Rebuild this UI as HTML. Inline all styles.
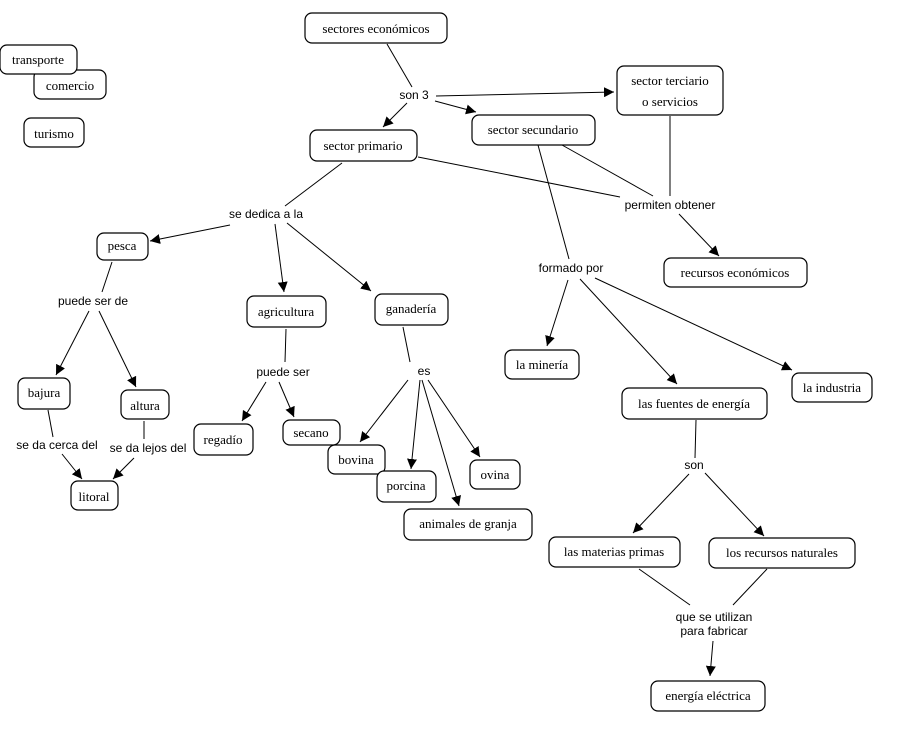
<!DOCTYPE html>
<html><head><meta charset="utf-8"><style>
html,body{margin:0;padding:0;background:#fff;}
svg{display:block;}
.n rect{fill:#fff;stroke:#000;stroke-width:1.2;}
.n text{font-family:"Liberation Serif",serif;font-size:13px;text-anchor:middle;fill:#000;}
.l{font-family:"Liberation Sans",sans-serif;font-size:12px;text-anchor:middle;fill:#000;}
line{stroke:#000;stroke-width:1;}
</style></head><body>
<svg width="912" height="753" viewBox="0 0 912 753" xmlns="http://www.w3.org/2000/svg">
<defs><marker id="a" viewBox="0 0 10 10" refX="10" refY="5" markerWidth="10" markerHeight="10" markerUnits="userSpaceOnUse" orient="auto"><path d="M0,0 L10,5 L0,10 z" fill="#000"/></marker></defs>
<g>
<line x1="387" y1="44" x2="412" y2="87"/>
<line x1="407" y1="103" x2="383" y2="127" marker-end="url(#a)"/>
<line x1="436" y1="96" x2="614" y2="92" marker-end="url(#a)"/>
<line x1="435" y1="101" x2="476" y2="112" marker-end="url(#a)"/>
<line x1="342" y1="163" x2="285" y2="206"/>
<line x1="418" y1="157" x2="620" y2="197"/>
<line x1="562" y1="145" x2="653" y2="196"/>
<line x1="670" y1="116" x2="670" y2="196"/>
<line x1="679" y1="214" x2="719" y2="256" marker-end="url(#a)"/>
<line x1="538" y1="145" x2="569" y2="259"/>
<line x1="568" y1="280" x2="547" y2="346" marker-end="url(#a)"/>
<line x1="580" y1="279" x2="677" y2="384" marker-end="url(#a)"/>
<line x1="595" y1="278" x2="792" y2="370" marker-end="url(#a)"/>
<line x1="230" y1="225" x2="150" y2="241" marker-end="url(#a)"/>
<line x1="275" y1="224" x2="284" y2="292" marker-end="url(#a)"/>
<line x1="287" y1="223" x2="371" y2="291" marker-end="url(#a)"/>
<line x1="112" y1="262" x2="102" y2="292"/>
<line x1="89" y1="311" x2="56" y2="375" marker-end="url(#a)"/>
<line x1="99" y1="311" x2="136" y2="387" marker-end="url(#a)"/>
<line x1="48" y1="410" x2="53" y2="437"/>
<line x1="62" y1="454" x2="82" y2="479" marker-end="url(#a)"/>
<line x1="144" y1="421" x2="144" y2="439"/>
<line x1="134" y1="458" x2="113" y2="479" marker-end="url(#a)"/>
<line x1="286" y1="329" x2="285" y2="362"/>
<line x1="266" y1="382" x2="242" y2="421" marker-end="url(#a)"/>
<line x1="279" y1="382" x2="294" y2="417" marker-end="url(#a)"/>
<line x1="403" y1="327" x2="410" y2="362"/>
<line x1="408" y1="380" x2="360" y2="442" marker-end="url(#a)"/>
<line x1="420" y1="380" x2="411" y2="469" marker-end="url(#a)"/>
<line x1="422" y1="380" x2="459" y2="506" marker-end="url(#a)"/>
<line x1="428" y1="380" x2="480" y2="457" marker-end="url(#a)"/>
<line x1="696" y1="420" x2="695" y2="458"/>
<line x1="689" y1="474" x2="633" y2="533" marker-end="url(#a)"/>
<line x1="705" y1="473" x2="764" y2="536" marker-end="url(#a)"/>
<line x1="639" y1="569" x2="690" y2="605"/>
<line x1="767" y1="569" x2="733" y2="605"/>
<line x1="713" y1="641" x2="710" y2="676" marker-end="url(#a)"/>
</g>
<g class="n">
<rect x="305" y="13" width="142" height="30" rx="7"/><text x="376" y="33">sectores económicos</text>
<rect x="34" y="70" width="72" height="29" rx="7"/><text x="70" y="90">comercio</text>
<rect x="0" y="45" width="77" height="29" rx="7"/><text x="38" y="64">transporte</text>
<rect x="24" y="118" width="60" height="29" rx="7"/><text x="54" y="138">turismo</text>
<rect x="310" y="130" width="107" height="31" rx="7"/><text x="363" y="150">sector primario</text>
<rect x="472" y="115" width="123" height="30" rx="7"/><text x="533" y="134">sector secundario</text>
<rect x="617" y="66" width="106" height="49" rx="7"/><text x="670" y="85">sector terciario</text><text x="670" y="106">o servicios</text>
<rect x="664" y="258" width="143" height="29" rx="7"/><text x="735" y="277">recursos económicos</text>
<rect x="97" y="233" width="51" height="27" rx="7"/><text x="122" y="250">pesca</text>
<rect x="247" y="296" width="79" height="31" rx="7"/><text x="286" y="316">agricultura</text>
<rect x="375" y="294" width="73" height="31" rx="7"/><text x="411" y="313">ganadería</text>
<rect x="505" y="350" width="74" height="29" rx="7"/><text x="542" y="369">la minería</text>
<rect x="622" y="388" width="145" height="31" rx="7"/><text x="694" y="408">las fuentes de energía</text>
<rect x="792" y="373" width="80" height="29" rx="7"/><text x="832" y="392">la industria</text>
<rect x="18" y="378" width="52" height="31" rx="7"/><text x="44" y="397">bajura</text>
<rect x="121" y="390" width="48" height="29" rx="7"/><text x="145" y="410">altura</text>
<rect x="194" y="424" width="59" height="31" rx="7"/><text x="223" y="444">regadío</text>
<rect x="283" y="420" width="57" height="25" rx="7"/><text x="311" y="437">secano</text>
<rect x="328" y="445" width="57" height="29" rx="7"/><text x="356" y="464">bovina</text>
<rect x="377" y="471" width="59" height="31" rx="7"/><text x="406" y="490">porcina</text>
<rect x="470" y="460" width="50" height="29" rx="7"/><text x="495" y="479">ovina</text>
<rect x="404" y="509" width="128" height="31" rx="7"/><text x="468" y="528">animales de granja</text>
<rect x="71" y="481" width="47" height="29" rx="7"/><text x="94" y="501">litoral</text>
<rect x="549" y="537" width="131" height="30" rx="7"/><text x="614" y="556">las materias primas</text>
<rect x="709" y="538" width="146" height="30" rx="7"/><text x="782" y="557">los recursos naturales</text>
<rect x="651" y="681" width="114" height="30" rx="7"/><text x="708" y="700">energía eléctrica</text>
</g>
<g class="l">
<text x="414" y="99">son 3</text>
<text x="266" y="218">se dedica a la</text>
<text x="670" y="209">permiten obtener</text>
<text x="571" y="272">formado por</text>
<text x="93" y="305">puede ser de</text>
<text x="283" y="376">puede ser</text>
<text x="424" y="375">es</text>
<text x="57" y="449">se da cerca del</text>
<text x="148" y="452">se da lejos del</text>
<text x="694" y="469">son</text>
<text x="714" y="621">que se utilizan</text>
<text x="714" y="635">para fabricar</text>
</g>
</svg>
</body></html>
